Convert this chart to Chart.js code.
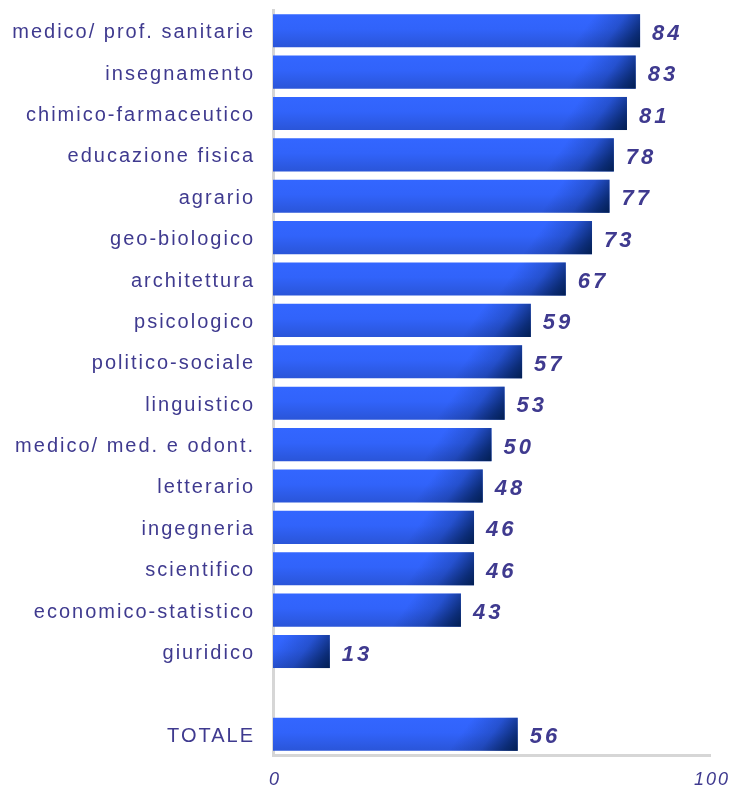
<!DOCTYPE html>
<html>
<head>
<meta charset="utf-8">
<script src="https://cdn.jsdelivr.net/npm/chart.js@4"></script>
<style>
  html, body { margin: 0; padding: 0; background: #fff; }
  #wrap { width: 736px; height: 787px; }
</style>
</head>
<body>
<div id="wrap"><canvas id="chart"></canvas></div>
<script>
// categories (the empty one keeps the gap before TOTALE)
const categories = [
  'medico/ prof. sanitarie', 'insegnamento', 'chimico-farmaceutico', 'educazione fisica',
  'agrario', 'geo-biologico', 'architettura', 'psicologico', 'politico-sociale',
  'linguistico', 'medico/ med. e odont.', 'letterario', 'ingegneria', 'scientifico',
  'economico-statistico', 'giuridico', '', 'TOTALE'
];
const values = [84, 83, 81, 78, 77, 73, 67, 59, 57, 53, 50, 48, 46, 46, 43, 13, null, 56];
const axisTicks = [0, 100];

const TEXT = '#3f3a8f';

// each bar: light on top, a bit darker at the bottom
const barGradient = {
  id: 'barGradient',
  beforeDatasetDraw(chart, args) {
    const ctx = chart.ctx;
    args.meta.data.forEach(bar => {
      if (bar.x == null || isNaN(bar.x)) return;
      const top = bar.y - bar.height / 2;
      const g = ctx.createLinearGradient(0, top, 0, top + bar.height);
      g.addColorStop(0, '#3366ff');
      g.addColorStop(0.45, '#3163fa');
      g.addColorStop(1, '#2a55d8');
      bar.options = Object.assign({}, bar.options, { backgroundColor: g });
    });
  },
  // then darken the bottom-right end
  afterDatasetDraw(chart, args) {
    const ctx = chart.ctx;
    args.meta.data.forEach(bar => {
      if (bar.x == null || isNaN(bar.x)) return;
      const top = bar.y - bar.height / 2;
      const left = Math.min(bar.base, bar.x);
      const w = Math.abs(bar.x - bar.base);
      const g = ctx.createLinearGradient(bar.x - 45, top, bar.x, top + bar.height);
      g.addColorStop(0, 'rgba(0,25,75,0)');
      g.addColorStop(0.45, 'rgba(0,25,75,0.25)');
      g.addColorStop(0.8, 'rgba(0,28,80,0.75)');
      g.addColorStop(1, 'rgba(0,28,75,0.95)');
      ctx.save();
      ctx.fillStyle = g;
      ctx.fillRect(left, top, w, bar.height);
      ctx.restore();
    });
  }
};

// value labels after the bars
const valueLabels = {
  id: 'valueLabels',
  afterDatasetsDraw(chart) {
    const ctx = chart.ctx;
    const meta = chart.getDatasetMeta(0);
    ctx.save();
    ctx.font = 'italic bold 22px "Liberation Sans", Arial, sans-serif';
    ctx.letterSpacing = '3px';
    ctx.fillStyle = TEXT;
    ctx.textAlign = 'left';
    ctx.textBaseline = 'middle';
    meta.data.forEach((bar, i) => {
      if (values[i] == null) return;
      ctx.fillText(String(values[i]), bar.x + 12, bar.y + 3);
    });
    ctx.restore();
  }
};

// wider letter spacing for axis texts
const spacing = {
  id: 'spacing',
  beforeDraw(chart) { chart.ctx.letterSpacing = '2px'; }
};

new Chart(document.getElementById('chart'), {
  type: 'bar',
  data: {
    labels: categories,
    datasets: [{
      data: values,
      backgroundColor: '#3366ff',
      borderWidth: 0,
      barPercentage: 0.8,
      categoryPercentage: 1
    }]
  },
  options: {
    indexAxis: 'y',
    responsive: true,
    maintainAspectRatio: false,
    animation: false,
    layout: { padding: { top: 10, right: 26, bottom: 0, left: 0 } },
    plugins: { legend: { display: false }, tooltip: { enabled: false } },
    scales: {
      x: {
        min: 0,
        max: 100,
        afterBuildTicks(scale) { scale.ticks = axisTicks.map(v => ({ value: v })); },
        afterFit(scale) {
          scale.height = 32;
          scale.paddingLeft = 0;
          scale.paddingRight = 0;
        },
        grid: { display: false, drawTicks: false },
        border: { display: true, color: '#d6d6d6', width: 3 },
        ticks: {
          padding: 14,
          labelOffset: 2,
          color: TEXT,
          font: { family: '"Liberation Sans", Arial, sans-serif', size: 18, style: 'italic' }
        }
      },
      y: {
        afterFit(scale) {
          scale.width = 273;
          scale.paddingTop = 0;
          scale.paddingBottom = 0;
        },
        grid: { display: false, drawTicks: false },
        border: { display: true, color: '#d6d6d6', width: 3 },
        ticks: {
          padding: 18,
          labelOffset: 2,
          color: TEXT,
          autoSkip: false,
          font: { family: '"Liberation Sans", Arial, sans-serif', size: 20 }
        }
      }
    }
  },
  plugins: [spacing, barGradient, valueLabels]
});
</script>
</body>
</html>
